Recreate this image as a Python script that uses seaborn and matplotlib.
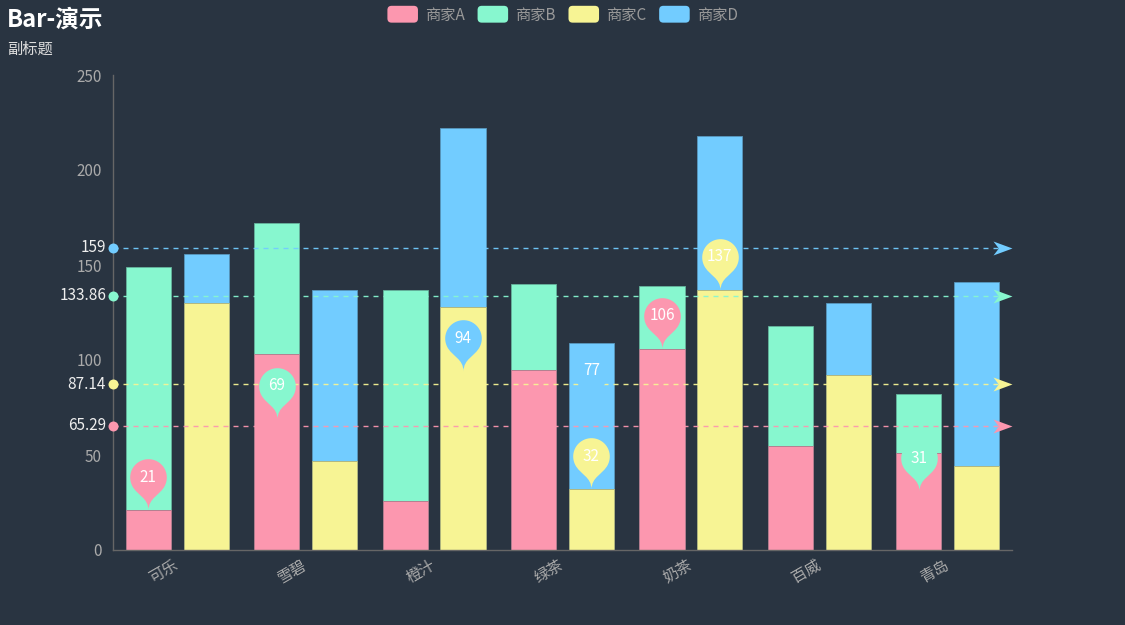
import numpy as np
import pandas as pd
import matplotlib
matplotlib.use("Agg")
import matplotlib.pyplot as plt
import seaborn as sns
from matplotlib.path import Path
from matplotlib.patches import Patch, FancyBboxPatch
from matplotlib.legend_handler import HandlerPatch
import matplotlib.colors as mcolors

# ---------------- data ----------------
categories = ["可乐", "雪碧", "橙汁", "绿茶", "奶茶", "百威", "青岛"]
series_names = ["商家A", "商家B", "商家C", "商家D"]
values_a = [21, 103, 26, 95, 106, 55, 51]
values_b = [128, 69, 111, 45, 33, 63, 31]
values_c = [130, 47, 128, 32, 137, 92, 44]
values_d = [26, 90, 94, 77, 81, 38, 97]
y_ticks = [0, 50, 100, 150, 200, 250]
title_text = "Bar-演示"
subtitle_text = "副标题"

# ---------------- style ----------------
colors = ["#fc97af", "#87f7cf", "#f7f494", "#72ccff"]
bg = "#293441"
W, H, DPI = 1125, 625, 100

sns.set_style("dark", rc={"axes.facecolor": bg, "figure.facecolor": bg})
plt.rcParams["font.family"] = ["Noto Sans CJK SC", "DejaVu Sans"]
plt.rcParams["lines.scale_dashes"] = False

fig = plt.figure(figsize=(W / DPI, H / DPI), dpi=DPI)
ax = fig.add_axes([113 / W, 75 / H, (1012 - 113) / W, (550 - 75) / H])
ax.set_facecolor(bg)

stack_ab = [a + b for a, b in zip(values_a, values_b)]
stack_cd = [c + d for c, d in zip(values_c, values_d)]

df_total = pd.DataFrame({
    "category": categories * 2,
    "stack": ["AB"] * len(categories) + ["CD"] * len(categories),
    "value": stack_ab + stack_cd,
})
df_base = pd.DataFrame({
    "category": categories * 2,
    "stack": ["AB"] * len(categories) + ["CD"] * len(categories),
    "value": values_a + values_c,
})

common = dict(x="category", y="value", hue="stack", hue_order=["AB", "CD"],
              order=categories, width=0.9, gap=0.22, errorbar=None,
              legend=False, ax=ax, zorder=2, linewidth=0, saturation=1)
sns.barplot(data=df_total, palette=[colors[1], colors[3]], **common)
sns.barplot(data=df_base, palette=[colors[0], colors[2]], **common)

def blend(c, t=0.35):
    c1 = np.array(mcolors.to_rgb(c)); c2 = np.array(mcolors.to_rgb(bg))
    return tuple(c1 * (1 - t) + c2 * t)

for cont in ax.containers:
    for p in cont:
        p.set_edgecolor(blend(p.get_facecolor()[:3]))
        p.set_linewidth(0.6)

ax.set_ylim(0, 250)
ax.set_yticks(y_ticks)
ax.set_xlim(-0.5, len(categories) - 0.5)
ax.set_xlabel("")
ax.set_ylabel("")
ax.grid(False)
for s in ["top", "right"]:
    ax.spines[s].set_visible(False)
for s in ["left", "bottom"]:
    ax.spines[s].set_visible(True)
    ax.spines[s].set_color("#666666")
    ax.spines[s].set_linewidth(1)
ax.tick_params(axis="y", length=0, pad=8, labelsize=11, labelcolor="#aaaaaa")
ax.tick_params(axis="x", length=0, pad=10, labelsize=11, labelcolor="#aaaaaa")
for lbl in ax.get_xticklabels():
    lbl.set_rotation(30)
    lbl.set_ha("right")
    lbl.set_va("center")
    lbl.set_rotation_mode("anchor")

# bar centres from seaborn's bars
base_ab, base_cd = ax.containers[-2], ax.containers[-1]
xs_ab = [p.get_x() + p.get_width() / 2 for p in base_ab]
xs_cd = [p.get_x() + p.get_width() / 2 for p in base_cd]

# ---------------- mark lines ----------------
xmin, xmax = ax.get_xlim()
px2pt = 72 / DPI
series_info = [
    (values_a, values_a, xs_ab),
    (stack_ab, values_b, xs_ab),
    (values_c, values_c, xs_cd),
    (stack_cd, values_d, xs_cd),
]
arrow_len, arrow_half = 19.0, 7.0
arrow_path = Path([(0, 0), (-arrow_len, arrow_half), (-0.72 * arrow_len, 0),
                   (-arrow_len, -arrow_half), (0, 0)],
                  [Path.MOVETO, Path.LINETO, Path.LINETO, Path.LINETO, Path.CLOSEPOLY])
for k, (stacked, raw, xs) in enumerate(series_info):
    avg = float(np.mean(stacked))
    col = colors[k]
    ax.plot([xmin, xmax], [avg, avg], color=col, lw=1.0, dashes=(3.6, 3.6),
            zorder=3, clip_on=False, alpha=0.95)
    ax.plot([xmin], [avg], marker="o", markersize=10 * px2pt, color=col,
            markeredgewidth=0, zorder=4, clip_on=False)
    ax.plot([xmax], [avg], marker=arrow_path, markersize=2 * arrow_len * px2pt,
            color=col, markeredgewidth=0, zorder=4, clip_on=False)
    ax.annotate(f"{round(avg, 2):g}", xy=(xmin, avg), xytext=(-7 * px2pt, 0),
                textcoords="offset points", ha="right", va="center",
                fontsize=11, color="#eeeeee", annotation_clip=False, zorder=5)

# ---------------- pins ----------------
r, cdist = 18.3, 33.0
u = (cdist + np.sqrt(cdist ** 2 + 4 * r ** 2)) / 2
dy = r * r / u
ang = np.arcsin(dy / r)
dx = np.cos(ang) * r
thetas = np.linspace(np.pi + ang, -ang, 40)
verts = [(r * np.cos(t), cdist + r * np.sin(t)) for t in thetas]
codes = [Path.MOVETO] + [Path.LINETO] * (len(verts) - 1)
cp1 = 0.6 * r; cp2 = 0.7 * r
verts += [(dx - np.sin(ang) * cp1, cdist - dy - np.cos(ang) * cp1), (0, cp2), (0, 0)]
codes += [Path.CURVE4] * 3
verts += [(0, cp2), (-dx + np.sin(ang) * cp1, cdist - dy - np.cos(ang) * cp1), (-dx, cdist - dy)]
codes += [Path.CURVE4] * 3
verts += [(0, 0)]
codes += [Path.CLOSEPOLY]
pin_path = Path(verts, codes)
pin_ms = 2 * (cdist + r) * px2pt

for k, (stacked, raw, xs) in enumerate(series_info):
    for idx in (int(np.argmax(stacked)), int(np.argmin(stacked))):
        ax.plot([xs[idx]], [raw[idx]], marker=pin_path, markersize=pin_ms,
                color=colors[k], markeredgewidth=0, zorder=6, clip_on=False)
        ax.annotate(str(raw[idx]), xy=(xs[idx], raw[idx]),
                    xytext=(0, cdist * px2pt), textcoords="offset points",
                    ha="center", va="center", fontsize=11, color="white",
                    zorder=7, annotation_clip=False)

# ---------------- titles ----------------
fig.text(7 / W, 1 - 26.5 / H, title_text, ha="left", va="baseline",
         fontsize=17, fontweight="bold", color="white")
fig.text(7 / W, 1 - 54 / H, subtitle_text, ha="left", va="baseline",
         fontsize=11, color="#dddddd")

# ---------------- legend ----------------
class RoundBox(HandlerPatch):
    def create_artists(self, legend, orig_handle, xdescent, ydescent,
                       width, height, fontsize, trans):
        p = FancyBboxPatch((-xdescent, -ydescent - 1.5), width, height + 3,
                           boxstyle="round,pad=0,rounding_size=3",
                           facecolor=orig_handle.get_facecolor(),
                           edgecolor="none", transform=trans)
        return [p]

handles = [Patch(facecolor=c) for c in colors]
fig.legend(handles, series_names, loc="center", bbox_to_anchor=(0.5, 1 - 15 / H),
           ncol=4, frameon=False, fontsize=11, handlelength=2.0, handleheight=0.9,
           handletextpad=0.45, columnspacing=0.85, labelcolor="#999999",
           handler_map={Patch: RoundBox()})

fig.savefig("out.png", dpi=DPI, facecolor=bg)
